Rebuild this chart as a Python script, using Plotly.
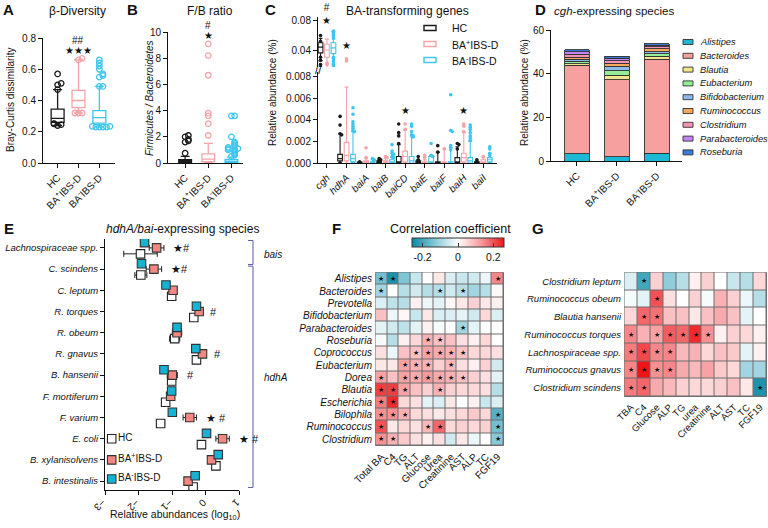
import plotly.graph_objects as go

W, H = 768, 528
FONT = "Liberation Sans, Arial, Helvetica, sans-serif"


def xd(a, b):
    return [a / W, b / W]


def yd(top, bottom):
    return [1 - bottom / H, 1 - top / H]


def px(x):
    return x / W


def py(y):
    return 1 - y / H


# ---------------- shared groups ----------------
GROUPS = ["HC", "BA⁺IBS-D", "BA⁻IBS-D"]
GROUP_TICKS = ["HC", "BA<sup>+</sup>IBS-D", "BA<sup>-</sup>IBS-D"]
BOX_COLORS = ["#1a1a1a", "#f5a3a8", "#3ec6ef"]

# ---------------- Panel A : beta diversity ----------------
A_q1 = [0.260, 0.355, 0.255]
A_med = [0.285, 0.400, 0.290]
A_q3 = [0.345, 0.465, 0.335]
A_lo = [0.240, 0.320, 0.230]
A_hi = [0.470, 0.660, 0.490]
A_out_HC = [0.47, 0.50, 0.51, 0.57, 0.24, 0.245, 0.25, 0.252]
A_out_BAp = [0.32, 0.32, 0.32, 0.66, 0.67]
A_out_BAm = [0.49, 0.49, 0.55, 0.56, 0.57, 0.60, 0.62, 0.64, 0.66,
             0.23, 0.23, 0.23, 0.23, 0.235, 0.235]

# ---------------- Panel B : F/B ratio ----------------
B_q1 = [0.05, 0.10, 0.05]
B_med = [0.15, 0.30, 0.15]
B_q3 = [0.25, 0.70, 0.28]
B_lo = [0.0, 0.0, 0.0]
B_hi = [0.50, 1.50, 0.45]
B_out_HC = [0.75, 1.6, 1.7, 1.8, 2.0, 2.1]
B_out_BAp = [2.1, 3.0, 3.6, 3.8, 6.7, 8.2, 9.1]
B_out_BAm = [0.5, 0.6, 0.7, 0.8, 0.9, 1.0, 1.0, 1.1, 1.1, 1.2, 1.3, 1.4,
             1.5, 1.6, 2.0, 3.6, 3.6]

# ---------------- Panel C : BA-transforming genes ----------------
C_genes = ["cgh", "hdhA", "baiA", "baiB", "baiCD", "baiE", "baiF", "baiH", "baiI"]
C_HC_q1 = [0.036, 0.0002, 0.0, 0.0, 0.0, 0.0, 0.0, 0.0, 0.0]
C_HC_med = [0.044, 0.0004, 0.00002, 0.0001, 0.0001, 0.00005, 0.0, 0.0001, 0.00003]
C_HC_q3 = [0.050, 0.0008, 0.00008, 0.0002, 0.0006, 0.0002, 0.0001, 0.0005, 0.0001]
C_HC_lo = [0.025, 0.0, 0.0, 0.0, 0.0, 0.0, 0.0, 0.0, 0.0]
C_HC_hi = [0.056, 0.0027, 0.0001, 0.0003, 0.0017, 0.0003, 0.0010, 0.0015, 0.0002]
C_HC_pts = [[0.060, 0.052, 0.030, 0.026, 0.020, 0.016],
            [0.0043, 0.0035, 0.0027, 0.0026, 0.0],
            [0.0001],
            [0.0004, 0.0003],
            [0.0036, 0.0028, 0.0025, 0.0018],
            [0.0006, 0.0003],
            [0.0016, 0.0010],
            [0.0018, 0.0017, 0.0013],
            [0.0003]]
C_BAp_q1 = [0.030, 0.0002, 0.0, 0.0, 0.0001, 0.0, 0.0, 0.0001, 0.0]
C_BAp_med = [0.040, 0.0007, 0.00003, 0.0001, 0.0006, 0.00003, 0.0, 0.0005, 0.0001]
C_BAp_q3 = [0.048, 0.0019, 0.0002, 0.0002, 0.0011, 0.0001, 0.0001, 0.0009, 0.0003]
C_BAp_lo = [0.012, 0.0, 0.0, 0.0, 0.0, 0.0, 0.0, 0.0, 0.0]
C_BAp_hi = [0.055, 0.0070, 0.0004, 0.0004, 0.0030, 0.0003, 0.0013, 0.0028, 0.0005]
C_BAp_pts = [[0.022, 0.020],
             [0.028, 0.025],
             [0.0014, 0.0005],
             [0.0006, 0.0005],
             [0.0036, 0.0031],
             [0.0007, 0.0005],
             [0.0013],
             [0.0036, 0.0034, 0.0029],
             [0.0006]]
C_BAm_q1 = [0.035, 0.0001, 0.0, 0.0, 0.0, 0.0, 0.0, 0.0, 0.0001]
C_BAm_med = [0.043, 0.0004, 0.00005, 0.0001, 0.0002, 0.0001, 0.0, 0.0002, 0.0003]
C_BAm_q3 = [0.050, 0.0008, 0.0001, 0.0003, 0.0006, 0.0006, 0.0001, 0.0005, 0.0005]
C_BAm_lo = [0.015, 0.0, 0.0, 0.0, 0.0, 0.0, 0.0, 0.0, 0.0]
C_BAm_hi = [0.066, 0.0029, 0.0003, 0.0005, 0.0024, 0.0007, 0.0014, 0.0020, 0.0009]
C_BAm_pts = [[0.066, 0.064, 0.062, 0.060, 0.058, 0.056, 0.030, 0.028, 0.025, 0.022, 0.020, 0.018],
             [0.0051, 0.0045, 0.0038, 0.0036, 0.0034, 0.0032, 0.0030, 0.0029, 0.0],
             [0.0004, 0.0003, 0.0002],
             [0.0017, 0.0011, 0.0009, 0.0008, 0.0006, 0.0005],
             [0.0036, 0.0034, 0.0029, 0.0026, 0.0025, 0.0024],
             [0.0018, 0.0007, 0.0006],
             [0.0063, 0.0030, 0.0029, 0.0016, 0.0014, 0.0012],
             [0.0035, 0.0033, 0.0031, 0.0028, 0.0025, 0.0023, 0.0021],
             [0.0015, 0.0013, 0.0009, 0.0007]]
C_sig = [("cgh", "#<br>★"), ("hdhA", "★"), ("baiCD", "★"), ("baiH", "★")]
C_sig_level = [0.071, 0.036, 0.0042, 0.0042]

# ---------------- Panel D : cgh-expressing species ----------------
D_species = ["Alistipes", "Bacteroides", "Blautia", "Eubacterium", "Bifidobacterium",
             "Ruminococcus", "Clostridium", "Parabacteroides", "Roseburia"]
D_colors = ["#1cb8d4", "#f6a19f", "#f2e68a", "#94ec94", "#8cb8ea",
            "#f5a85e", "#f492b8", "#c383f0", "#3b7bd8"]
D_HC = [3.3, 40.5, 0.8, 1.2, 0.8, 1.0, 1.2, 1.2, 1.0]
D_BAp = [2.0, 35.3, 2.0, 2.0, 2.0, 1.5, 1.2, 1.0, 1.0]
D_BAm = [3.6, 42.9, 1.5, 1.2, 0.8, 1.5, 0.8, 0.7, 0.8]

# ---------------- Panel E : hdhA/bai-expressing species ----------------
E_species = ["Lachnospiraceae spp.", "C. scindens", "C. leptum", "R. torques", "R. obeum",
             "R. gnavus", "B. hansenii", "F. mortiferum", "F. varium", "E. coli",
             "B. xylanisolvens", "B. intestinalis"]
E_HC = [-1.94, -1.93, -1.01, -0.35, -0.92, -0.27, -1.01, -1.19, -1.34, -0.12, 0.31, -0.37]
E_HC_err = [0.50, 0.18, 0.08, 0.06, 0.15, 0.05, 0.06, 0.07, 0.12, 0.06, 0.06, 0.08]
E_BAp = [-1.46, -1.54, -0.97, -0.19, -0.85, -0.09, -0.99, -1.04, -0.47, 0.51, 0.18, -0.52]
E_BAp_err = [0.22, 0.23, 0.06, 0.05, 0.14, 0.05, 0.15, 0.05, 0.20, 0.20, 0.05, 0.05]
E_BAm = [-1.82, -1.91, -1.18, -0.27, -0.85, -0.29, -1.24, -1.01, -0.99, 0.03, 0.38, -0.31]
E_BAm_err = [0.10, 0.06, 0.05, 0.04, 0.05, 0.04, 0.10, 0.04, 0.04, 0.04, 0.04, 0.05]
E_sig = ["★#", "★#", "", "#", "", "#", "#", "", "★ #", "★ #", "", ""]

# ---------------- Panel F : genus correlations ----------------
F_rows = ["Alistipes", "Bacteroides", "Prevotella", "Bifidobacterium", "Parabacteroides",
          "Roseburia", "Coprococcus", "Eubacterium", "Dorea", "Blautia", "Escherichia",
          "Bilophila", "Ruminococcus", "Clostridium"]
F_cols = ["Total BA", "C4", "TG", "ALT", "Glucose", "Urea", "Creatinine", "AST", "ALP", "TC", "FGF19"]
F_vals = [
    [-0.15, -0.24, -0.14, -0.06, 0.00, 0.03, -0.04, -0.06, -0.05, -0.02, 0.15],
    [-0.10, 0.00, -0.08, -0.05, -0.08, -0.08, -0.05, -0.08, -0.10, -0.08, 0.01],
    [-0.04, -0.07, -0.08, 0.02, -0.02, -0.03, 0.01, 0.03, 0.06, 0.03, 0.02],
    [0.08, -0.02, 0.01, -0.06, 0.03, -0.04, -0.04, -0.03, -0.05, 0.05, -0.04],
    [-0.03, -0.05, -0.07, -0.03, 0.02, -0.01, 0.00, -0.10, -0.03, 0.00, 0.00],
    [-0.01, -0.08, 0.02, 0.05, 0.10, 0.08, 0.08, 0.04, 0.02, 0.05, 0.00],
    [0.04, -0.02, 0.08, 0.08, 0.12, 0.11, 0.10, 0.08, 0.05, 0.05, 0.04],
    [0.03, 0.03, 0.12, 0.10, 0.10, 0.06, 0.09, 0.04, 0.02, 0.06, -0.05],
    [0.12, 0.08, 0.12, 0.11, 0.13, 0.11, 0.10, 0.08, 0.06, 0.04, -0.03],
    [0.22, 0.22, 0.12, 0.08, 0.06, 0.10, 0.06, 0.05, 0.05, 0.04, -0.08],
    [0.16, 0.24, 0.05, 0.04, -0.03, -0.04, 0.03, 0.00, 0.02, -0.06, -0.04],
    [0.14, 0.14, 0.10, 0.05, 0.04, 0.03, 0.04, 0.05, 0.07, 0.05, -0.18],
    [0.20, 0.03, 0.05, 0.04, 0.09, 0.18, 0.05, 0.06, 0.05, 0.06, -0.15],
    [0.14, 0.10, 0.07, 0.04, 0.02, 0.04, -0.05, 0.03, -0.02, 0.00, -0.13],
]
F_sig = [
    [1, 1, 0, 0, 0, 0, 0, 0, 0, 0, 1],
    [1, 0, 0, 0, 0, 1, 0, 1, 0, 0, 0],
    [0, 0, 0, 0, 0, 0, 0, 0, 0, 0, 0],
    [0, 0, 0, 0, 0, 0, 0, 0, 0, 0, 0],
    [0, 0, 0, 0, 0, 0, 0, 1, 0, 0, 0],
    [0, 0, 0, 0, 1, 1, 0, 0, 0, 0, 0],
    [0, 0, 0, 1, 1, 1, 1, 1, 0, 0, 0],
    [0, 0, 1, 1, 1, 0, 1, 0, 0, 0, 0],
    [1, 0, 1, 1, 1, 1, 1, 1, 0, 0, 0],
    [1, 1, 1, 0, 0, 1, 0, 0, 0, 0, 0],
    [1, 1, 0, 0, 0, 0, 0, 0, 0, 0, 0],
    [1, 1, 1, 0, 0, 0, 0, 0, 0, 0, 1],
    [1, 0, 0, 0, 1, 1, 0, 0, 0, 0, 1],
    [1, 1, 0, 0, 0, 0, 0, 0, 0, 0, 1],
]

# ---------------- Panel G : species correlations ----------------
G_rows = ["Clostridium leptum", "Ruminococcus obeum", "Blautia hansenii", "Ruminococcus torques",
          "Lachnospiraceae spp.", "Ruminococcus gnavus", "Clostridium scindens"]
G_cols = ["TBA", "C4", "Glucose", "ALP", "TG", "urea", "Creatinine", "ALT", "AST", "TC", "FGF19"]
G_vals = [
    [-0.04, -0.20, 0.06, -0.12, -0.08, 0.02, 0.06, 0.00, -0.06, -0.08, 0.05],
    [-0.01, -0.03, 0.20, 0.04, 0.00, 0.06, -0.01, 0.10, 0.06, -0.02, -0.08],
    [0.05, 0.18, 0.17, 0.08, 0.08, 0.03, 0.08, 0.11, 0.08, -0.03, 0.00],
    [0.15, 0.10, 0.12, 0.19, 0.18, 0.24, 0.14, 0.02, 0.06, 0.05, 0.02],
    [0.16, 0.21, 0.15, 0.15, 0.09, 0.10, 0.05, 0.08, 0.07, -0.03, 0.02],
    [0.15, 0.26, 0.14, 0.15, 0.11, 0.09, 0.12, 0.07, 0.05, -0.10, -0.10],
    [0.16, 0.18, 0.11, 0.09, 0.06, 0.05, 0.05, 0.06, 0.08, 0.03, -0.24],
]
G_sig = [
    [0, 1, 0, 0, 0, 0, 0, 0, 0, 0, 0],
    [0, 0, 1, 0, 0, 0, 0, 0, 0, 0, 0],
    [0, 1, 1, 0, 0, 0, 0, 0, 0, 0, 0],
    [1, 0, 1, 1, 1, 1, 1, 0, 0, 0, 0],
    [1, 1, 1, 1, 0, 0, 0, 0, 0, 0, 0],
    [1, 1, 1, 1, 0, 0, 0, 0, 0, 0, 0],
    [1, 1, 0, 0, 0, 0, 0, 0, 0, 0, 1],
]


def spread(vals, tol, step):
    """Horizontal offsets so near-identical points sit side by side."""
    offs, placed = [], []
    for v in vals:
        n = sum(1 for u in placed if abs(u - v) < tol)
        k = ((n + 1) // 2) * (1 if n % 2 else -1)
        offs.append(k * step)
        placed.append(v)
    return offs


fig = go.Figure()

# ---------- A ----------
A_out = [A_out_HC, A_out_BAp, A_out_BAm]
for i in range(3):
    fig.add_trace(go.Box(x=[i], q1=[A_q1[i]], median=[A_med[i]], q3=[A_q3[i]],
                         lowerfence=[A_lo[i]], upperfence=[A_hi[i]], width=0.62,
                         whiskerwidth=0.7, fillcolor="white", boxpoints=False,
                         line=dict(color=BOX_COLORS[i], width=1.3),
                         xaxis="x", yaxis="y", hoverinfo="skip"))
    offs = spread(A_out[i], 0.012, 0.17)
    fig.add_trace(go.Scatter(x=[i + o for o in offs], y=A_out[i], mode="markers",
                             marker=dict(symbol="circle-open", size=5.5,
                                         line=dict(width=1.3, color=BOX_COLORS[i]),
                                         color=BOX_COLORS[i]),
                             xaxis="x", yaxis="y", hoverinfo="skip"))

# ---------- B ----------
B_out = [B_out_HC, B_out_BAp, B_out_BAm]
for i in range(3):
    fig.add_trace(go.Box(x=[i], q1=[B_q1[i]], median=[B_med[i]], q3=[B_q3[i]],
                         lowerfence=[B_lo[i]], upperfence=[B_hi[i]], width=0.55,
                         whiskerwidth=0.7, fillcolor="white", boxpoints=False,
                         line=dict(color=BOX_COLORS[i], width=1.3),
                         xaxis="x2", yaxis="y2", hoverinfo="skip"))
    offs = spread(B_out[i], 0.12, 0.14)
    fig.add_trace(go.Scatter(x=[i + o for o in offs], y=B_out[i], mode="markers",
                             marker=dict(symbol="circle-open", size=5.5,
                                         line=dict(width=1.3, color=BOX_COLORS[i]),
                                         color=BOX_COLORS[i]),
                             xaxis="x2", yaxis="y2", hoverinfo="skip"))

# ---------- C ----------
C_groups = [
    (C_HC_q1, C_HC_med, C_HC_q3, C_HC_lo, C_HC_hi, C_HC_pts),
    (C_BAp_q1, C_BAp_med, C_BAp_q3, C_BAp_lo, C_BAp_hi, C_BAp_pts),
    (C_BAm_q1, C_BAm_med, C_BAm_q3, C_BAm_lo, C_BAm_hi, C_BAm_pts),
]
C_OFF = [-0.33, 0.0, 0.33]
for gi, (q1, med, q3, lo, hi, pts) in enumerate(C_groups):
    xs = [j + C_OFF[gi] for j in range(len(C_genes))]
    for yax in ["y3", "y4"]:
        fig.add_trace(go.Box(x=xs, q1=q1, median=med, q3=q3, lowerfence=lo, upperfence=hi,
                             width=0.24, whiskerwidth=0.8, fillcolor="white", boxpoints=False,
                             line=dict(color=BOX_COLORS[gi], width=1.1),
                             xaxis="x3", yaxis=yax, hoverinfo="skip"))
    px_x, px_y = [], []
    for j, vals in enumerate(pts):
        rel = max(vals) if vals else 1
        offs = spread(vals, 0.00012 if rel < 0.01 else 0.0015, 0.08)
        px_x += [j + C_OFF[gi] + o for o in offs]
        px_y += vals
    for yax in ["y3", "y4"]:
        fig.add_trace(go.Scatter(x=px_x, y=px_y, mode="markers",
                                 marker=dict(size=3.6, color=BOX_COLORS[gi]),
                                 xaxis="x3", yaxis=yax, hoverinfo="skip"))

# ---------- D ----------
for k, sp in enumerate(D_species):
    fig.add_trace(go.Bar(x=[0, 1, 2], y=[D_HC[k], D_BAp[k], D_BAm[k]], width=0.62,
                         marker=dict(color=D_colors[k], line=dict(color="#333", width=0.9)),
                         xaxis="x5", yaxis="y5", name=sp, hoverinfo="skip"))

# ---------- E ----------
E_rows = list(range(len(E_species)))
E_sets = [
    (E_HC, E_HC_err, 0.28, "white", "#222"),
    (E_BAp, E_BAp_err, 0.0, "#f4877f", "#333"),
    (E_BAm, E_BAm_err, -0.25, "#16b2d3", "#333"),
]
for vals, errs, off, fill, edge in E_sets:
    fig.add_trace(go.Scatter(x=vals, y=[r + off for r in E_rows], mode="markers",
                             marker=dict(symbol="square", size=8.5, color=fill,
                                         line=dict(color=edge, width=1.1)),
                             error_x=dict(type="data", array=errs, color="#222",
                                          thickness=1, width=3),
                             xaxis="x6", yaxis="y6", hoverinfo="skip"))
# legend of panel E (inside the axes, lower-left)
LEG_E_X = -2.8
LEG_E_ROWS = [9.0, 10.0, 10.9]
for (vals, errs, off, fill, edge), lab, ry in zip(E_sets, GROUP_TICKS, LEG_E_ROWS):
    fig.add_trace(go.Scatter(x=[LEG_E_X], y=[ry], mode="markers+text", text=[lab],
                             textposition="middle right", textfont=dict(size=10),
                             marker=dict(symbol="square", size=8.5, color=fill,
                                         line=dict(color=edge, width=1.1)),
                             xaxis="x6", yaxis="y6", hoverinfo="skip", cliponaxis=False))

# ---------- F & G heatmaps ----------
fig.add_trace(go.Heatmap(z=F_vals, x=F_cols, y=F_rows, coloraxis="coloraxis",
                         text=[["★" if s else "" for s in row] for row in F_sig],
                         texttemplate="%{text}", textfont=dict(size=6.5, color="#111"),
                         xgap=1, ygap=1, xaxis="x7", yaxis="y7", hoverinfo="skip"))
fig.add_trace(go.Heatmap(z=G_vals, x=G_cols, y=G_rows, coloraxis="coloraxis",
                         text=[["★" if s else "" for s in row] for row in G_sig],
                         texttemplate="%{text}", textfont=dict(size=6.5, color="#111"),
                         xgap=1, ygap=1, xaxis="x8", yaxis="y8", hoverinfo="skip"))


# ---------------- axes ----------------
def ax(domain, **kw):
    d = dict(domain=domain, showline=True, linecolor="#111", linewidth=1, ticks="outside",
             ticklen=4, tickwidth=1, tickcolor="#111", showgrid=False, zeroline=False,
             automargin=False, tickfont=dict(size=10, color="#111"))
    d.update(kw)
    return d


def hax(domain, **kw):
    d = dict(domain=domain, showline=False, ticks="", showgrid=False, zeroline=False,
             automargin=False, tickfont=dict(size=10, color="#111"), ticklabelstandoff=2,
             tickmode="array")
    d.update(kw)
    return d


layout = dict(
    width=W, height=H, margin=dict(l=0, r=0, t=0, b=0, pad=0, autoexpand=False),
    paper_bgcolor="white", plot_bgcolor="white", showlegend=False,
    font=dict(family=FONT, size=10, color="#111"),
    barmode="stack", bargap=0.3, boxmode="overlay",
    xaxis=ax(xd(43, 115), anchor="y", range=[-0.7, 2.75], tickvals=[0, 1, 2],
             ticktext=GROUP_TICKS, tickangle=-45),
    yaxis=ax(yd(38, 163), anchor="x", range=[0, 0.8], tickvals=[0, 0.2, 0.4, 0.6, 0.8],
             tickformat=".1f"),
    xaxis2=ax(xd(168, 243), anchor="y2", range=[-0.74, 2.5], tickvals=[0, 1, 2],
              ticktext=GROUP_TICKS, tickangle=-45),
    yaxis2=ax(yd(32, 163), anchor="x2", range=[0, 10], tickvals=[0, 2, 4, 6, 8, 10]),
    xaxis3=ax(xd(318, 497), anchor="y3", range=[-0.46, 8.7],
              tickvals=list(range(len(C_genes))),
              ticktext=[f"<i>{g}</i>" for g in C_genes], tickangle=-45),
    yaxis3=ax(yd(72, 163), anchor="x3", range=[0, 0.0084],
              tickvals=[0, 0.002, 0.004, 0.006, 0.008], tickformat=".3f"),
    yaxis4=ax(yd(17, 67), anchor="x3", range=[0.0166, 0.0855], tickvals=[0.04, 0.08],
              tickformat=".2f"),
    xaxis5=ax(xd(551, 682), anchor="y5", range=[-0.65, 2.63], tickvals=[0, 1, 2],
              ticktext=GROUP_TICKS, tickangle=-45),
    yaxis5=ax(yd(30, 161), anchor="x5", range=[0, 60], tickvals=[0, 20, 40, 60]),
    xaxis6=ax(xd(105, 239), anchor="y6", range=[-3, 1], tickvals=[-3, -2, -1, 0, 1],
              tickangle=135),
    yaxis6=ax(yd(239, 490), anchor="x6", range=[11.42, -0.42], tickvals=E_rows,
              ticktext=[f"<i>{s}</i>" for s in E_species], tickfont=dict(size=9.5)),
    xaxis7=hax(xd(375, 504), anchor="y7", tickangle=-45, tickvals=F_cols, ticktext=F_cols),
    yaxis7=hax(yd(272, 446), anchor="x7", autorange="reversed",
               tickvals=F_rows, ticktext=[f"<i>{r}</i>" for r in F_rows]),
    xaxis8=hax(xd(624, 767), anchor="y8", tickangle=-45, tickfont=dict(size=9.5),
               tickvals=G_cols, ticktext=G_cols),
    yaxis8=hax(yd(272, 397), anchor="x8", autorange="reversed", tickfont=dict(size=9.5),
               tickvals=G_rows, ticktext=[f"<i>{r}</i>" for r in G_rows]),
    coloraxis=dict(
        cmin=-0.26, cmax=0.26,
        colorscale=[[0, "#0b88a4"], [0.25, "#86c9d8"], [0.5, "#ffffff"],
                    [0.75, "#f69a9d"], [1, "#ee1518"]],
        colorbar=dict(orientation="h", x=px(458), xanchor="center", y=py(238), yanchor="top",
                      len=92, lenmode="pixels", thickness=9, thicknessmode="pixels",
                      xpad=0, ypad=0, tickvals=[-0.2, 0, 0.2], ticktext=["-0.2", "0", "0.2"],
                      ticks="inside", ticklen=4, tickcolor="#333", outlinecolor="#333",
                      outlinewidth=1, tickfont=dict(size=10.5)),
    ),
)

ann = []


def text(x, y, s, size=10, **kw):
    d = dict(x=px(x), y=py(y), xref="paper", yref="paper", text=s, showarrow=False,
             xanchor="center", yanchor="middle", font=dict(size=size, color="#111"))
    d.update(kw)
    ann.append(d)


# panel letters and titles
for letter, lx, ly in [("A", 8, 10), ("B", 132, 10), ("C", 270, 10), ("D", 540, 10),
                       ("E", 9, 228), ("F", 336, 228), ("G", 538, 228)]:
    text(lx, ly, f"<b>{letter}</b>", size=15)
text(77, 11, "β-Diversity", size=12)
text(210, 11, "F/B ratio", size=12)
text(407, 11, "BA-transforming genes", size=12)
text(614, 11, "<i>cgh</i>-expressing species", size=11.5)
text(182, 229, "<i>hdhA/bai</i>-expressing species", size=12)
text(450, 229, "Correlation coefficient", size=12.5)

# axis titles
text(10, 100, "Bray-Curtis dissimilarity", size=10, textangle=-90)
text(150, 98, "<i>Firmicutes / Bacteroidetes</i>", size=10, textangle=-90)
text(272, 93, "Relative abundance (%)", size=10, textangle=-90)
text(524, 93, "Relative abundance (%)", size=10, textangle=-90)
text(175, 515, "Relative abundances (log<sub>10</sub>)", size=10.5)

# significance marks A, B
for xr, s, yy, fs in [("x", "##", 41, 10), ("x", "★★★", 51, 9.5), ("x2", "#", 26, 10),
                      ("x2", "★", 35, 9.5)]:
    ann.append(dict(x=1, y=py(yy), xref=xr, yref="paper", text=s, showarrow=False,
                    xanchor="center", yanchor="middle", font=dict(size=fs)))
# significance marks C
for (gene, s), lvl in zip(C_sig, C_sig_level):
    j = C_genes.index(gene)
    yref = "y4" if lvl > 0.01 else "y3"
    ann.append(dict(x=j, y=lvl, xref="x3", yref=yref, text=s, showarrow=False,
                    xanchor="center", yanchor="bottom", font=dict(size=10)))
text(318, 70, "//", size=12)

# significance marks E
for r, s in enumerate(E_sig):
    if s:
        edge = max(E_HC[r] + E_HC_err[r], E_BAp[r] + E_BAp_err[r], E_BAm[r] + E_BAm_err[r])
        ann.append(dict(x=edge + 0.22, y=r, xref="x6", yref="y6", text=s, showarrow=False,
                        xanchor="left", yanchor="middle", font=dict(size=11)))

shapes = []
# brackets of panel E
BR = "#5b5ba6"
for (y0, y1, lab, ly, lx) in [(-0.35, 0.78, "bais", 0.3, 262), (0.86, 11.3, "hdhA", 6.1, 262)]:
    shapes.append(dict(type="path", xref="paper", yref="y6",
                       path=f"M {px(248)} {y0} L {px(253)} {y0} L {px(253)} {y1} L {px(248)} {y1}",
                       line=dict(color=BR, width=1)))
    ann.append(dict(x=px(lx), y=ly, xref="paper", yref="y6", text=f"<i>{lab}</i>",
                    showarrow=False, xanchor="left", yanchor="middle", font=dict(size=10)))

# grid background for heatmaps
for xa, ya, nr, nc in [("x7", "y7", len(F_rows), len(F_cols)), ("x8", "y8", len(G_rows), len(G_cols))]:
    shapes.append(dict(type="rect", xref=xa, yref=ya, x0=-0.5, x1=nc - 0.5, y0=-0.5,
                       y1=nr - 0.5, fillcolor="#6e6e6e", line=dict(color="#6e6e6e", width=1),
                       layer="below"))

# legend of panel C
LEG_C_X, LEG_C_Y, LEG_C_DY = 424, 28, 16
for i, lab in enumerate(GROUP_TICKS):
    yy = LEG_C_Y + i * LEG_C_DY
    shapes.append(dict(type="rect", xref="paper", yref="paper", x0=px(LEG_C_X), x1=px(LEG_C_X + 12),
                       y0=py(yy + 2.5), y1=py(yy - 2.5), fillcolor="white",
                       line=dict(color=BOX_COLORS[i], width=1.4)))
    text(LEG_C_X + 26, yy, lab, size=10.5, xanchor="left")

# legend of panel D
LEG_D_X, LEG_D_Y, LEG_D_DY = 683, 42, 13.8
for k, sp in enumerate(D_species):
    yy = LEG_D_Y + k * LEG_D_DY
    shapes.append(dict(type="rect", xref="paper", yref="paper", x0=px(LEG_D_X), x1=px(LEG_D_X + 10),
                       y0=py(yy + 2.5), y1=py(yy - 2.5), fillcolor=D_colors[k],
                       line=dict(color="#333", width=0.9)))
    text(LEG_D_X + 15, yy, f"<i>{sp}</i>", size=9.3, xanchor="left")

layout["annotations"] = ann
layout["shapes"] = shapes
fig.update_layout(**layout)
fig.write_html("out.html", config={"displayModeBar": False},
               post_script="document.body.style.margin='0px';")
